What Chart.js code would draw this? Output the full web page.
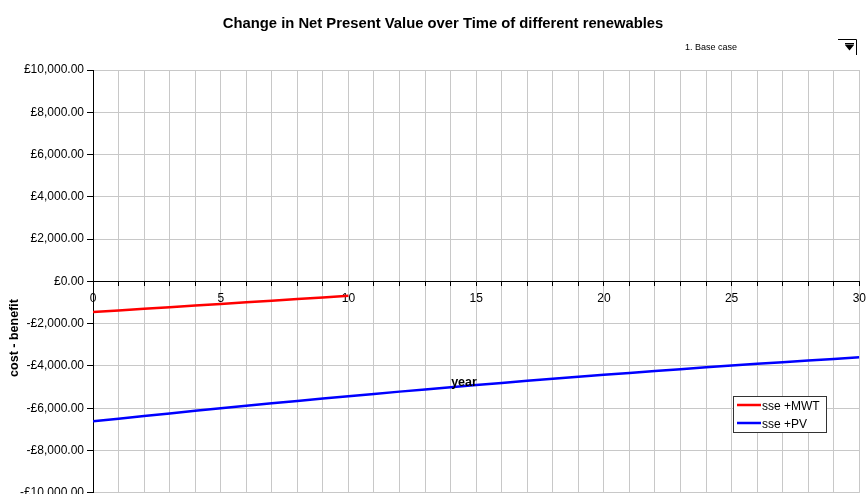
<!DOCTYPE html>
<html>
<head>
<meta charset="utf-8">
<title>Change in Net Present Value over Time of different renewables</title>
<script src="https://cdn.jsdelivr.net/npm/chart.js@4.4.1/dist/chart.umd.min.js"></script>
<style>
  html, body { margin: 0; padding: 0; background: #ffffff; overflow: hidden; }
  #wrap { position: relative; width: 866px; height: 494px; overflow: hidden; }
</style>
</head>
<body>
<div id="wrap"><canvas id="npv" width="872" height="503"></canvas></div>
<script>
// Years on the horizontal axis
const years = [0, 1, 2, 3, 4, 5, 6, 7, 8, 9, 10, 11, 12, 13, 14, 15,
               16, 17, 18, 19, 20, 21, 22, 23, 24, 25, 26, 27, 28, 29, 30];
const xLabelYears = [0, 5, 10, 15, 20, 25, 30];

// Micro wind turbine: cost - benefit (£) for years 0..10
const mwtYears = [0, 1, 2, 3, 4, 5, 6, 7, 8, 9, 10];
const mwtValues = [-1450, -1372, -1295, -1218, -1141, -1065, -989, -913, -834, -757, -680];

// Solar PV: cost - benefit (£) for years 0..30
const pvValues = [-6620, -6493, -6368, -6244, -6122, -6003, -5884, -5768, -5654, -5541,
                  -5430, -5321, -5214, -5108, -5004, -4903, -4802, -4704, -4608, -4513,
                  -4420, -4329, -4240, -4152, -4066, -3983, -3900, -3820, -3742, -3665, -3590];

// Vertical axis ticks
const yTicks = [10000, 8000, 6000, 4000, 2000, 0, -2000, -4000, -6000, -8000, -10000];

const seriesNames = ['sse +MWT', 'sse +PV'];
const seriesColors = ['#ff0000', '#0000ff'];

const chartTitle = 'Change in Net Present Value over Time of different renewables';
const scenarioText = '1. Base case';
const xTitle = 'year';
const yTitle = 'cost - benefit';

const FONT = '"Liberation Sans", Arial, Helvetica, sans-serif';
Chart.defaults.font.family = FONT;
Chart.defaults.font.size = 12;
Chart.defaults.color = '#000000';

function pounds(v) {
  const s = Math.abs(v).toLocaleString('en-GB', { minimumFractionDigits: 2, maximumFractionDigits: 2 });
  return (v < 0 ? '-£' : '£') + s;
}

// Titles, scenario selector and the boxed legend
const decor = {
  id: 'decor',
  afterDraw(chart) {
    const c = chart.ctx;
    c.save();
    c.fillStyle = '#000';

    // main title
    c.font = 'bold 14.8px ' + FONT;
    c.textAlign = 'center';
    c.textBaseline = 'alphabetic';
    c.fillText(chartTitle, 443, 28);

    // scenario selector
    c.font = '9px ' + FONT;
    c.textAlign = 'left';
    c.textBaseline = 'middle';
    c.fillText(scenarioText, 685, 48);
    c.strokeStyle = '#000';
    c.lineWidth = 1;
    c.beginPath();
    c.moveTo(838, 39.5);
    c.lineTo(856.5, 39.5);
    c.lineTo(856.5, 55);
    c.stroke();
    c.fillRect(845, 43, 9, 1.5);
    c.beginPath();
    c.moveTo(845, 45);
    c.lineTo(854, 45);
    c.lineTo(849.5, 50.5);
    c.closePath();
    c.fill();

    // axis titles
    c.font = 'bold 12.5px ' + FONT;
    c.textAlign = 'center';
    c.textBaseline = 'alphabetic';
    c.fillText(xTitle, 464, 386);
    c.save();
    c.translate(18, 338);
    c.rotate(-Math.PI / 2);
    c.fillText(yTitle, 0, 0);
    c.restore();

    // legend box
    c.fillStyle = '#ffffff';
    c.fillRect(733.5, 396.5, 93, 36);
    c.strokeStyle = '#333';
    c.lineWidth = 1;
    c.strokeRect(733.5, 396.5, 93, 36);
    chart.data.datasets.forEach((ds, i) => {
      const y = 405 + i * 18;
      c.strokeStyle = ds.borderColor;
      c.lineWidth = 2.5;
      c.beginPath();
      c.moveTo(737, y);
      c.lineTo(761, y);
      c.stroke();
      c.fillStyle = '#000';
      c.font = '12px ' + FONT;
      c.textAlign = 'left';
      c.textBaseline = 'middle';
      c.fillText(ds.label, 762, y + 1.5);
    });
    c.restore();
  }
};

new Chart(document.getElementById('npv'), {
  type: 'line',
  data: {
    datasets: [
      {
        label: seriesNames[0],
        data: mwtYears.map((x, i) => ({ x: x, y: mwtValues[i] })),
        borderColor: seriesColors[0],
        borderWidth: 2.5,
        pointRadius: 0,
        fill: false,
        tension: 0
      },
      {
        label: seriesNames[1],
        data: years.map((x, i) => ({ x: x, y: pvValues[i] })),
        borderColor: seriesColors[1],
        borderWidth: 2.5,
        pointRadius: 0,
        fill: false,
        tension: 0
      }
    ]
  },
  options: {
    responsive: false,
    animation: false,
    devicePixelRatio: 1,
    layout: { padding: { top: 70, right: 7, bottom: 8, left: 0 } },
    plugins: {
      legend: { display: false },
      title: { display: false },
      tooltip: { enabled: false }
    },
    scales: {
      x: {
        type: 'linear',
        min: 0,
        max: 30,
        position: { y: 0 },
        ticks: {
          stepSize: 1,
          autoSkip: false,
          maxRotation: 0,
          padding: 6,
          color: '#000',
          font: { size: 12 },
          callback: v => (xLabelYears.includes(v) ? String(v) : '')
        },
        grid: { color: '#c8c8c8', lineWidth: 1, tickLength: 4, tickColor: '#000' },
        border: { color: '#000', width: 1 }
      },
      y: {
        type: 'linear',
        min: -10000,
        max: 10000,
        afterBuildTicks: s => { s.ticks = yTicks.map(v => ({ value: v })); },
        afterFit: s => { s.width = 93; },
        ticks: {
          padding: 3,
          color: '#000',
          font: { size: 12 },
          callback: v => pounds(v)
        },
        grid: { color: '#c8c8c8', lineWidth: 1, tickLength: 6, tickColor: '#000' },
        border: { color: '#000', width: 1 }
      }
    }
  },
  plugins: [decor]
});
</script>
</body>
</html>
